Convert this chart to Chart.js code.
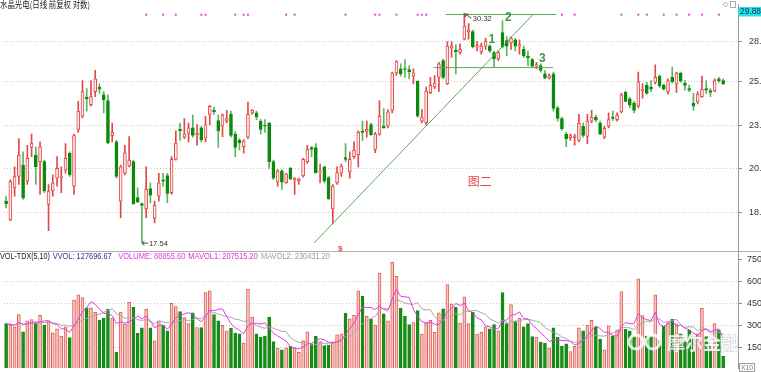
<!DOCTYPE html>
<html>
<head>
<meta charset="utf-8">
<script src="https://cdn.jsdelivr.net/npm/chart.js@4.4.1/dist/chart.umd.min.js"></script>
<style>
html, body { margin: 0; padding: 0; background: #fff; overflow: hidden; }
#kChart { display: block; }
</style>
</head>
<body>
<canvas id="kChart" width="761" height="372"></canvas>
<script>
// daily candles, 前复权
const openP = [
  19.35,18.50,19.97,20.52,21.09,20.29,21.99,21.60,21.26,21.26,
  19.19,19.82,20.44,20.46,20.83,21.69,20.05,22.97,23.70,24.81,
  24.37,25.13,25.41,24.94,24.60,22.63,22.29,19.35,20.68,21.04,
  21.26,19.51,19.23,18.99,19.94,18.56,19.58,20.36,20.57,19.74,
  21.38,22.97,22.54,22.75,23.05,22.68,23.05,22.49,23.80,24.03,
  23.46,23.14,23.42,23.80,22.71,22.37,22.03,22.54,23.89,23.89,
  23.42,23.19,23.32,21.26,20.24,20.80,20.21,20.92,20.36,20.30,
  20.55,21.26,21.99,21.99,20.75,21.00,20.47,18.99,20.21,20.68,
  21.47,20.75,21.52,21.60,22.88,22.85,23.23,21.89,22.71,23.14,
  23.14,24.03,26.29,26.54,26.54,26.50,26.08,25.76,23.42,23.32,
  25.07,25.41,26.01,27.07,25.60,27.91,27.74,27.60,28.49,29.01,
  29.01,27.95,27.64,28.02,28.02,27.60,27.17,28.94,28.40,28.23,
  28.44,28.02,27.81,27.34,27.13,26.71,26.75,26.22,25.95,26.22,
  24.18,23.57,22.71,22.52,22.52,22.37,23.14,22.58,23.42,23.65,
  23.32,22.54,23.14,23.65,23.51,23.95,25.09,24.71,24.46,24.27,
  25.17,25.51,25.41,25.70,26.08,25.51,25.13,26.01,25.60,26.27,
  25.66,25.32,24.46,24.52,24.84,25.32,25.19,25.17,25.91,25.80
];
const highP = [
  19.58,20.36,21.00,22.46,21.77,22.11,22.71,22.03,22.29,21.34,
  20.13,20.60,21.52,21.00,22.20,21.77,22.71,24.56,25.80,25.32,
  25.80,26.44,25.60,25.13,24.94,23.32,22.37,21.09,22.11,22.57,
  21.34,19.97,19.27,21.00,20.21,19.35,20.68,20.68,20.68,21.52,
  22.88,23.32,23.57,23.32,23.76,23.23,23.14,23.70,24.33,24.22,
  23.76,23.84,24.03,23.99,22.85,22.46,22.41,24.52,24.08,23.99,
  23.51,23.51,23.35,21.34,20.86,20.86,20.68,20.97,20.47,20.44,
  21.43,22.11,22.06,22.20,21.14,21.04,20.52,20.13,21.00,21.14,
  22.20,21.77,22.29,22.88,23.42,23.42,23.32,22.80,24.60,24.14,
  24.08,26.33,27.07,26.86,27.13,26.75,26.54,25.80,24.08,25.41,
  26.01,26.12,26.96,27.17,28.33,28.33,28.12,28.18,30.32,29.57,
  29.12,28.33,28.23,28.56,28.12,27.70,27.70,29.79,28.67,28.67,
  28.56,28.44,28.02,27.70,27.22,26.96,26.86,26.44,26.22,26.33,
  24.27,23.65,22.80,22.71,22.70,23.80,23.32,23.80,24.03,23.76,
  23.42,23.14,23.89,23.99,23.89,25.03,25.17,24.79,24.56,26.33,
  25.60,25.70,25.80,26.79,26.16,25.60,25.91,26.65,26.33,26.33,
  25.80,25.53,25.03,25.13,26.08,25.80,25.32,25.91,26.01,25.91
];
const lowP = [
  19.04,18.46,19.58,20.13,19.43,20.13,21.52,20.13,19.66,19.74,
  18.03,19.58,20.05,19.74,20.68,20.52,19.66,22.80,23.61,23.99,
  24.27,24.84,25.03,23.89,22.20,22.29,20.44,18.60,20.60,21.00,
  19.19,19.27,17.54,18.60,19.27,18.36,19.35,20.05,19.27,19.66,
  21.34,22.37,22.46,22.29,22.54,22.11,22.29,22.29,23.23,23.80,
  21.99,22.57,23.32,22.54,21.52,21.86,21.69,22.46,23.80,23.51,
  22.71,22.80,20.92,20.36,20.05,19.90,20.18,20.36,19.66,20.13,
  20.49,21.17,21.52,20.68,20.21,20.21,19.43,18.32,20.13,20.52,
  21.26,20.44,21.43,21.00,22.37,22.54,22.63,21.72,22.63,23.02,
  23.05,23.89,26.12,26.08,26.01,25.91,25.60,23.65,23.32,23.23,
  25.01,25.32,25.13,25.91,25.55,27.28,26.22,27.49,28.44,28.49,
  27.91,27.70,27.49,27.81,27.60,26.65,27.07,27.91,27.38,27.81,
  27.70,27.49,27.28,26.75,26.65,26.54,26.33,25.91,25.91,23.99,
  23.42,22.92,22.03,22.37,22.11,22.29,22.54,22.20,23.32,23.38,
  22.68,22.46,23.05,23.46,23.42,23.89,24.52,24.18,23.89,24.18,
  24.75,24.98,25.13,25.60,25.38,25.22,24.98,25.66,25.09,25.70,
  25.22,25.13,24.03,24.41,24.79,25.03,24.84,25.13,25.70,25.55
];
const closeP = [
  19.23,20.29,20.52,21.60,19.51,21.43,22.23,21.00,22.03,19.82,
  19.82,20.21,20.92,20.52,21.43,20.60,22.63,23.99,25.13,24.71,
  24.84,25.91,25.28,24.65,22.23,22.80,20.52,21.00,21.72,21.34,
  19.23,19.30,19.15,19.90,19.62,19.15,20.21,20.29,19.71,21.38,
  22.23,22.88,22.71,23.05,22.63,22.75,22.41,23.23,24.27,23.95,
  22.88,23.76,23.57,22.63,21.99,22.23,22.34,23.80,24.03,23.65,
  22.97,23.14,21.26,20.44,20.80,20.24,20.65,20.40,20.44,20.40,
  21.38,21.89,21.89,20.71,20.80,20.29,19.46,20.05,20.71,21.04,
  21.38,21.38,21.86,22.80,22.80,22.97,22.68,22.71,23.70,23.05,
  23.95,26.29,27.00,26.22,26.50,26.37,26.29,23.70,23.65,25.17,
  25.51,25.66,26.86,26.01,28.02,28.06,27.64,27.81,29.39,29.12,
  27.98,28.06,28.02,28.33,27.70,27.17,27.60,27.98,28.02,28.56,
  28.02,28.12,27.38,27.24,26.71,26.82,26.44,25.95,26.12,24.14,
  23.57,22.99,22.46,22.63,22.58,23.32,22.63,23.42,23.65,23.49,
  22.71,23.02,23.51,23.57,23.76,24.94,24.56,24.33,24.03,25.74,
  25.28,25.03,25.28,26.01,25.49,25.28,25.80,25.74,26.27,25.80,
  25.51,25.22,24.27,24.98,25.28,25.22,25.09,25.80,25.80,25.60
];
// volume in axis units (X10 panel)
const volumes = [
  311,300,289,373,255,329,338,316,367,300,
  329,248,275,226,289,215,471,507,489,418,
  416,387,333,349,409,349,115,389,307,456,
  422,244,282,409,282,193,325,298,262,449,
  427,393,351,311,384,284,284,522,534,373,
  329,298,262,278,244,240,177,547,355,240,
  218,226,355,188,144,132,144,155,144,115,
  195,255,173,226,188,160,164,177,233,240,
  382,344,367,534,498,360,342,300,656,378,
  329,730,634,415,362,304,317,400,239,315,
  333,251,385,411,578,445,422,315,494,311,
  389,239,251,289,275,304,262,523,311,440,
  329,349,289,311,222,217,182,177,144,282,
  217,155,173,119,155,282,262,298,333,289,
  204,132,295,226,266,530,271,262,222,616,
  366,226,226,507,199,295,317,340,309,240,
  188,266,217,240,415,222,155,311,266,89
];
// days flagged with the small magenta marks along the top
const signalDays = [33,37,40,46,47,54,56,57,66,68,80,87,88,92,97,98,99,131,134,145,149,151,155,158,161,164,168];
const priceTicks = [18.82, 20.90, 23.19, 25.76, 28.33];
const volTicks = [150, 300, 450, 600, 750];

const N = openP.length;
const dayLabels = Array.from({length: N + 3}, (_, i) => i < N ? 'D' + (i + 1) : '');
const isUp = openP.map((o, i) => closeP[i] >= o);

function movingAvg(arr, n) {
  return arr.map((_, i) => {
    const s = arr.slice(Math.max(0, i - n + 1), i + 1);
    return s.reduce((a, b) => a + b, 0) / s.length;
  });
}
const mavol1 = movingAvg(volumes, 5);
const mavol2 = movingAvg(volumes, 10);
const signalRow = dayLabels.map((_, i) => signalDays.includes(i) ? 30.2 : null);

const RED = '#e24848';
const GREEN = '#0c8a0c';
const LINE_GREEN = '#58aa58';
const FONT = '"Liberation Sans", Arial, sans-serif';
const CJK = '"Noto Sans CJK SC", sans-serif';

// hand drawn study lines: [day, price, day, price]
const studyLines = [
  [103.6, 30.22, 129.6, 30.22],
  [100.8, 26.62, 128.9, 26.62],
  [72.6, 17.51, 124.2, 30.22]
];
const waveMarks = [['1', 114.4, 28.49], ['2', 118.3, 29.96], ['3', 126.3, 27.18]];

// keep the plot area flush with the canvas edges
function fixAxis(s) {
  s.width = 23;
  s.paddingTop = 0;
  s.paddingBottom = 0;
}

const overlay = {
  id: 'overlay',
  afterDraw(chart) {
    const ctx = chart.ctx;
    const xs = chart.scales.x, ys = chart.scales.y, yv = chart.scales.yv;
    const px = i => xs.getPixelForValue(i);
    const py = p => ys.getPixelForValue(p);
    ctx.save();

    // panel separator
    const sepY = Math.round(yv.top) + 0.5;
    ctx.strokeStyle = '#b0b0b0';
    ctx.lineWidth = 1;
    ctx.beginPath(); ctx.moveTo(0, sepY); ctx.lineTo(761, sepY); ctx.stroke();

    // study lines
    ctx.strokeStyle = LINE_GREEN;
    studyLines.forEach(l => {
      ctx.beginPath(); ctx.moveTo(px(l[0]), py(l[1])); ctx.lineTo(px(l[2]), py(l[3])); ctx.stroke();
    });

    ctx.textBaseline = 'middle';
    ctx.textAlign = 'left';

    ctx.fillStyle = '#3f9a3f';
    ctx.font = 'bold 12px ' + FONT;
    waveMarks.forEach(m => ctx.fillText(m[0], px(m[1]) - 3, py(m[2])));

    // high / low labels
    const hi = highP.indexOf(Math.max(...highP));
    const lo = lowP.indexOf(Math.min(...lowP));
    ctx.strokeStyle = '#444';
    ctx.fillStyle = '#333';
    ctx.font = '8px ' + FONT;
    let hx = px(hi), hy = py(highP[hi]);
    ctx.beginPath(); ctx.moveTo(hx + 1, hy + 1); ctx.lineTo(hx + 7, hy + 5); ctx.stroke();
    ctx.beginPath(); ctx.moveTo(hx + 1, hy + 1); ctx.lineTo(hx + 4, hy + 1); ctx.moveTo(hx + 1, hy + 1); ctx.lineTo(hx + 1, hy + 4); ctx.stroke();
    ctx.fillText(highP[hi].toFixed(2), hx + 8.5, hy + 5.5, 19);
    let lx = px(lo), ly = py(lowP[lo]);
    ctx.beginPath(); ctx.moveTo(lx, ly + 1); ctx.lineTo(lx + 6, ly + 1); ctx.stroke();
    ctx.beginPath(); ctx.moveTo(lx, ly + 1); ctx.lineTo(lx + 2.5, ly - 1); ctx.moveTo(lx, ly + 1); ctx.lineTo(lx + 2.5, ly + 3); ctx.stroke();
    ctx.fillText(lowP[lo].toFixed(2), lx + 7, ly + 1.5, 19);

    // 图二
    ctx.fillStyle = '#e84646';
    ctx.font = '12px ' + CJK;
    ctx.fillText('图二', px(108.8), py(20.3));

    // red mark under the swing low
    ctx.font = 'bold 8px ' + FONT;
    ctx.fillText('$', px(78) + 1, 249);

    // title
    ctx.fillStyle = '#222';
    ctx.font = '9px ' + CJK;
    ctx.fillText('水晶光电(日线 前复权 对数)', 0, 5, 90);

    // top-right small icons
    ctx.strokeStyle = '#aaa';
    ctx.beginPath(); ctx.moveTo(725.5, 2); ctx.lineTo(728, 4.5); ctx.lineTo(725.5, 7); ctx.lineTo(723, 4.5); ctx.closePath(); ctx.stroke();
    ctx.strokeRect(730.5, 1.5, 5, 6);

    // last price box
    ctx.fillStyle = '#22e3e3';
    ctx.fillRect(738.5, 7, 22.5, 9.5);
    ctx.fillStyle = '#1a2a5a';
    ctx.font = '8.5px ' + FONT;
    ctx.fillText('29.88', 740, 12, 21);

    // volume header
    const hy2 = sepY + 5;
    const head = [
      ['VOL-TDX(5,10)', 0, 50, '#222'],
      ['VVOL: 127696.67', 52.7, 59, '#2c3a8c'],
      ['VOLUME: 88855.60', 118.3, 67, '#e03ce0'],
      ['MAVOL1: 207515.20', 188.3, 69.5, '#d832d8'],
      ['MAVOL2: 230431.20', 261, 69, '#9c9c9c']
    ];
    ctx.font = '9px ' + FONT;
    head.forEach(h => { ctx.fillStyle = h[3]; ctx.fillText(h[0], h[1], hy2, h[2]); });

    // X10 unit box
    ctx.strokeStyle = '#999';
    ctx.strokeRect(739.5, 363.5, 15, 8);
    ctx.fillStyle = '#777';
    ctx.font = '7px ' + FONT;
    ctx.fillText('X10', 741, 368, 12);

    // watermark
    ctx.lineWidth = 3;
    ctx.strokeStyle = 'rgba(255,255,255,0.85)';
    ctx.beginPath(); ctx.arc(636, 342, 7, 0, Math.PI * 2); ctx.stroke();
    ctx.beginPath(); ctx.arc(653, 342, 7, 0, Math.PI * 2); ctx.stroke();
    ctx.font = 'bold 18px ' + CJK;
    ctx.lineWidth = 1;
    ctx.strokeStyle = 'rgba(150,150,150,0.45)';
    ctx.strokeText('摩尔金融', 667, 343, 77);
    ctx.fillStyle = 'rgba(255,255,255,0.85)';
    ctx.fillText('摩尔金融', 667, 343, 77);

    ctx.restore();
  }
};

new Chart(document.getElementById('kChart'), {
  type: 'bar',
  data: {
    labels: dayLabels,
    datasets: [
      {
        type: 'line', label: 'signal', data: signalRow, yAxisID: 'y', showLine: false,
        pointStyle: 'rect', pointRadius: 1.4, pointBackgroundColor: '#e04ce0', pointBorderWidth: 0, order: 0
      },
      {
        type: 'line', label: 'MAVOL1', data: mavol1, yAxisID: 'yv', borderColor: '#e43ce4',
        borderWidth: 1, pointRadius: 0, tension: 0, order: 0
      },
      {
        type: 'line', label: 'MAVOL2', data: mavol2, yAxisID: 'yv', borderColor: '#a8a8a8',
        borderWidth: 1, pointRadius: 0, tension: 0, order: 1
      },
      {
        label: 'body', data: openP.map((o, i) => [o, closeP[i]]), yAxisID: 'y', grouped: false,
        barThickness: 3, minBarLength: 1, borderWidth: 1, borderSkipped: false,
        backgroundColor: isUp.map(u => u ? '#fdeaea' : GREEN),
        borderColor: isUp.map(u => u ? RED : GREEN), order: 2
      },
      {
        label: 'wick', data: lowP.map((l, i) => [l, highP[i]]), yAxisID: 'y', grouped: false,
        barThickness: 1, backgroundColor: isUp.map(u => u ? RED : '#5cb55c'), order: 3
      },
      {
        label: 'VOLUME', data: volumes, yAxisID: 'yv', grouped: false,
        barThickness: 3, borderWidth: 1, borderSkipped: false,
        backgroundColor: isUp.map(u => u ? '#f8c6bf' : '#168c16'),
        borderColor: isUp.map(u => u ? '#e0605a' : '#168c16'), order: 2
      }
    ]
  },
  options: {
    responsive: false,
    animation: false,
    devicePixelRatio: 1,
    events: [],
    layout: { padding: 0 },
    plugins: { legend: { display: false }, tooltip: { enabled: false } },
    scales: {
      x: { type: 'category', display: false, offset: true, grid: { display: false } },
      y: {
        type: 'logarithmic', position: 'right', stack: 'panes', stackWeight: 252,
        min: 17.19, max: 30.99,
        afterBuildTicks: s => { s.ticks = priceTicks.map(v => ({ value: v })); },
        afterFit: fixAxis,
        ticks: { autoSkip: false, padding: 7, color: '#333', font: { size: 9, family: FONT },
          callback: v => Number(v).toFixed(2) },
        grid: { color: '#c9c9c9', tickColor: '#888', tickLength: 4 },
        border: { display: true, color: '#999', dash: [1, 2] }
      },
      yv: {
        type: 'linear', position: 'right', stack: 'panes', stackWeight: 120,
        min: 7, max: 810,
        afterBuildTicks: s => { s.ticks = volTicks.map(v => ({ value: v })); },
        afterFit: fixAxis,
        ticks: { autoSkip: false, padding: 5, color: '#333', font: { size: 9, family: FONT },
          callback: v => String(v) },
        grid: { color: c => c.tick && c.tick.value === 750 ? 'rgba(0,0,0,0)' : '#c9c9c9', tickColor: '#888', tickLength: 4 },
        border: { display: true, color: '#999', dash: [1, 2] }
      }
    }
  },
  plugins: [overlay]
});
</script>
</body>
</html>
